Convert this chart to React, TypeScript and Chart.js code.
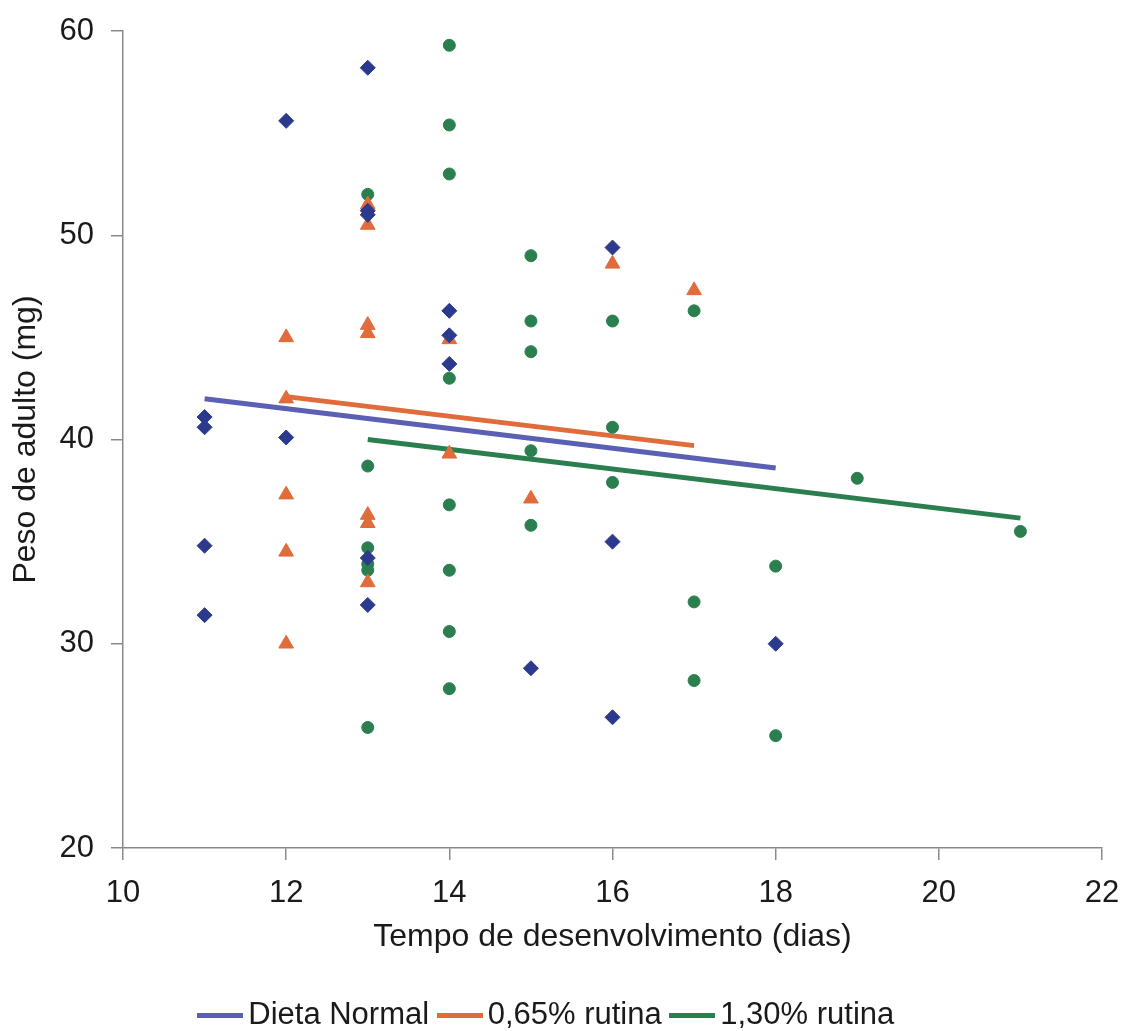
import React, { useEffect, useRef } from 'react';
import { Chart, registerables } from 'chart.js';

Chart.register(...registerables);

// Dieta Normal (blue diamonds)
const normalX = [11, 11, 11, 11, 12, 12, 13, 13, 13, 13, 13, 14, 14, 14, 15, 16, 16, 16, 18];
const normalY = [41.1, 40.6, 34.8, 31.4, 55.6, 40.1, 58.2, 51.2, 51.0, 34.2, 31.9, 46.3, 45.1, 43.7, 28.8, 49.4, 35.0, 26.4, 30.0];

// 0,65% rutina (orange triangles)
const rut065X = [12, 12, 12, 12, 12, 13, 13, 13, 13, 13, 13, 13, 14, 14, 15, 16, 17];
const rut065Y = [45.0, 42.0, 37.3, 34.5, 30.0, 51.5, 50.5, 45.6, 45.2, 36.3, 35.9, 33.0, 44.9, 39.3, 37.1, 48.6, 47.3];

// 1,30% rutina (green circles)
const rut130X = [13, 13, 13, 13, 13, 13, 14, 14, 14, 14, 14, 14, 14, 14, 15, 15, 15, 15, 15, 16, 16, 16, 17, 17, 17, 18, 18, 19, 21];
const rut130Y = [52.0, 38.7, 34.7, 33.9, 33.6, 25.9, 59.3, 55.4, 53.0, 43.0, 36.8, 33.6, 30.6, 27.8, 49.0, 45.8, 44.3, 39.45, 35.8, 45.8, 40.6, 37.9, 46.3, 32.05, 28.2, 33.8, 25.5, 38.1, 35.5];

// Linear trend lines (endpoints)
const normalTrendX = [11, 18];
const normalTrendY = [42.0, 38.6];
const rut065TrendX = [12, 17];
const rut065TrendY = [42.1, 39.7];
const rut130TrendX = [13, 21];
const rut130TrendY = [40.0, 36.15];

const seriesLabels = ['Dieta Normal', '0,65% rutina', '1,30% rutina'];
const xTicks = [10, 12, 14, 16, 18, 20, 22];
const yTicks = [20, 30, 40, 50, 60];

const pts = (xs: number[], ys: number[]) => xs.map((x, i) => ({ x, y: ys[i] }));

const FONT = '"Liberation Sans", Arial, sans-serif';

function legendLine(color: string) {
  const c = document.createElement('canvas');
  c.width = 46;
  c.height = 5;
  const ctx = c.getContext('2d');
  if (ctx) {
    ctx.fillStyle = color;
    ctx.fillRect(0, 0, 46, 5);
  }
  return c;
}

export default function App() {
  const ref = useRef<HTMLCanvasElement | null>(null);

  useEffect(() => {
    if (!ref.current) return;
    const markerBlue = '#2c3a8e';
    const lineBlue = '#5b60b4';
    const orange = '#e06b3b';
    const green = '#2b7f4f';
    const chart = new Chart(ref.current, {
      type: 'scatter',
      data: {
        datasets: [
          {
            label: seriesLabels[0] + ' pts',
            data: pts(normalX, normalY),
            pointStyle: 'rectRot',
            pointRadius: 7.5,
            backgroundColor: markerBlue,
            borderColor: markerBlue,
            borderWidth: 1,
          },
          {
            label: seriesLabels[1] + ' pts',
            data: pts(rut065X, rut065Y),
            pointStyle: 'triangle',
            pointRadius: 8.5,
            backgroundColor: orange,
            borderColor: orange,
            borderWidth: 1,
          },
          {
            label: seriesLabels[2] + ' pts',
            data: pts(rut130X, rut130Y),
            pointStyle: 'circle',
            pointRadius: 6,
            backgroundColor: green,
            borderColor: green,
            borderWidth: 1,
          },
          {
            type: 'line',
            label: seriesLabels[0],
            data: pts(normalTrendX, normalTrendY),
            showLine: true,
            borderColor: lineBlue,
            backgroundColor: lineBlue,
            borderWidth: 5,
            pointRadius: 0,
            pointStyle: legendLine(lineBlue),
          },
          {
            type: 'line',
            label: seriesLabels[1],
            data: pts(rut065TrendX, rut065TrendY),
            showLine: true,
            borderColor: orange,
            backgroundColor: orange,
            borderWidth: 5,
            pointRadius: 0,
            pointStyle: legendLine(orange),
          },
          {
            type: 'line',
            label: seriesLabels[2],
            data: pts(rut130TrendX, rut130TrendY),
            showLine: true,
            borderColor: green,
            backgroundColor: green,
            borderWidth: 5,
            pointRadius: 0,
            pointStyle: legendLine(green),
          },
        ] as any,
      },
      options: {
        responsive: false,
        animation: false,
        layout: { padding: { left: 0, right: 21, top: 31, bottom: -10 } },
        plugins: {
          tooltip: { enabled: false },
          legend: {
            position: 'bottom',
            labels: {
              filter: (item: any) => item.datasetIndex >= 3,
              usePointStyle: true,
              pointStyleWidth: 25,
              boxHeight: 31,
              padding: 18,
              color: '#1a1a1a',
              font: { family: FONT, size: 31 },
            },
          },
        },
        scales: {
          x: {
            type: 'linear',
            position: 'bottom',
            min: 10,
            max: 22,
            afterBuildTicks: (s: any) => {
              s.ticks = xTicks.map((v) => ({ value: v }));
            },
            afterFit: (s: any) => {
              const lh = s.chart.legend ? s.chart.legend.height : 59;
              s.height = 1031 + 10 - lh - 848;
              s.paddingLeft = 0;
              s.paddingRight = 0;
            },
            ticks: {
              maxRotation: 0,
              autoSkip: false,
              padding: 15,
              color: '#1a1a1a',
              font: { family: FONT, size: 31 },
            },
            grid: { display: true, drawOnChartArea: false, drawTicks: true, tickLength: 12, color: '#8a8a8a', lineWidth: 1.5 },
            border: { display: true, color: '#8a8a8a', width: 1.5 },
            title: {
              display: true,
              text: 'Tempo de desenvolvimento (dias)',
              color: '#1a1a1a',
              font: { family: FONT, size: 32 },
              padding: { top: 0, bottom: 26 },
            },
          },
          y: {
            type: 'linear',
            min: 20,
            max: 60,
            afterBuildTicks: (s: any) => {
              s.ticks = yTicks.map((v) => ({ value: v }));
            },
            afterFit: (s: any) => {
              s.width = 123;
              s.paddingTop = 0;
              s.paddingBottom = 0;
            },
            ticks: {
              padding: 17,
              color: '#1a1a1a',
              font: { family: FONT, size: 31 },
            },
            grid: { display: true, drawOnChartArea: false, drawTicks: true, tickLength: 12, color: '#8a8a8a', lineWidth: 1.5 },
            border: { display: true, color: '#8a8a8a', width: 1.5 },
            title: {
              display: true,
              text: 'Peso de adulto (mg)',
              color: '#1a1a1a',
              font: { family: FONT, size: 32 },
              padding: { top: 7, bottom: 0 },
            },
          },
        },
      } as any,
    });
    return () => chart.destroy();
  }, []);

  return (
    <div style={{ position: 'absolute', left: 0, top: 0, width: 1123, height: 1031, background: '#fff' }}>
      <canvas ref={ref} width={1123} height={1031} style={{ width: 1123, height: 1031, display: 'block' }} />
    </div>
  );
}
